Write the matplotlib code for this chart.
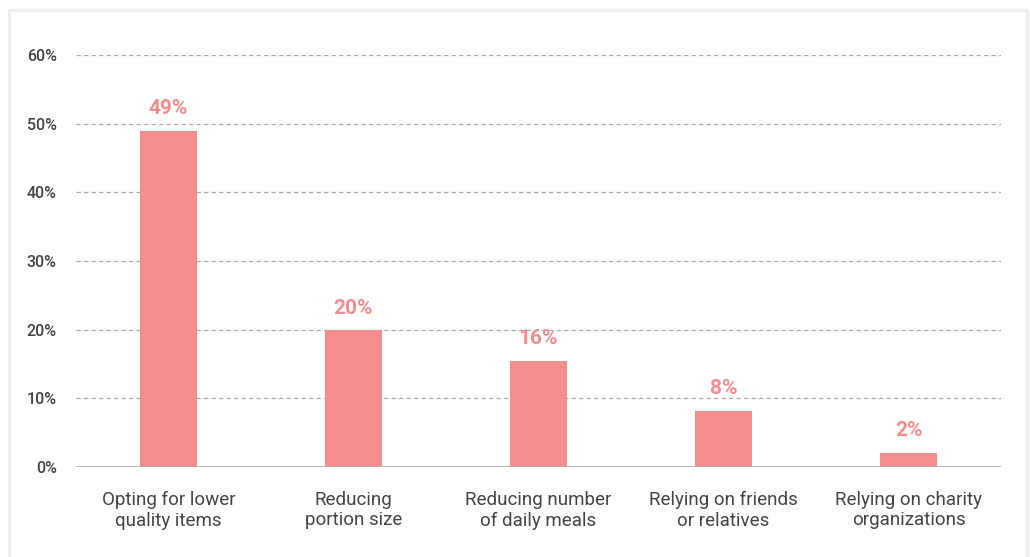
import matplotlib.pyplot as plt
from matplotlib.patches import Rectangle

plt.rcParams['font.family'] = ['Roboto', 'DejaVu Sans']

categories = ['Opting for lower\nquality items', 'Reducing\nportion size',
              'Reducing number\nof daily meals', 'Relying on friends\nor relatives',
              'Relying on charity\norganizations']
values = [49.0, 19.9, 15.5, 8.2, 2.1]
labels = ['49%', '20%', '16%', '8%', '2%']
yticks = [0, 10, 20, 30, 40, 50, 60]

bar_color = '#f48d8d'
text_color = '#444444'

fig = plt.figure(figsize=(10.30, 5.57), dpi=100)
fig.patches.append(Rectangle((9/1030, -0.1), 1018/1030, 1.1 - 10/557,
                             transform=fig.transFigure, fill=False,
                             edgecolor='#eeeeee', linewidth=2.5))
ax = fig.add_axes([76/1030, 1 - 467/557, 925/1030, 412/557])

x = list(range(len(categories)))
ax.bar(x, values, width=0.31, color=bar_color, zorder=3)
for xi, v, lab in zip(x, values, labels):
    ax.annotate(lab, (xi, v), xytext=(0, 9), textcoords='offset points',
                ha='center', va='bottom', fontsize=15, fontweight='bold',
                color=bar_color, zorder=4)

ax.set_xlim(-0.5, 4.5)
ax.set_ylim(0, 60)
ax.set_yticks(yticks)
ax.set_yticklabels(['%d%%' % t for t in yticks], fontsize=11.5,
                   fontweight='medium', color=text_color)
ax.set_xticks(x)
ax.set_xticklabels(categories, fontsize=13.5, color=text_color, linespacing=1.2)
ax.tick_params(axis='both', length=0)
ax.tick_params(axis='y', pad=14)
ax.tick_params(axis='x', pad=17)

for t in yticks[1:]:
    ax.axhline(t, color='#aaaaaa', linestyle=(0, (3.5, 2.5)), linewidth=0.9, zorder=1)
ax.axhline(0, color='#aaaaaa', linewidth=1.2, zorder=4)

for s in ax.spines.values():
    s.set_visible(False)

fig.savefig('out.png', dpi=100)
